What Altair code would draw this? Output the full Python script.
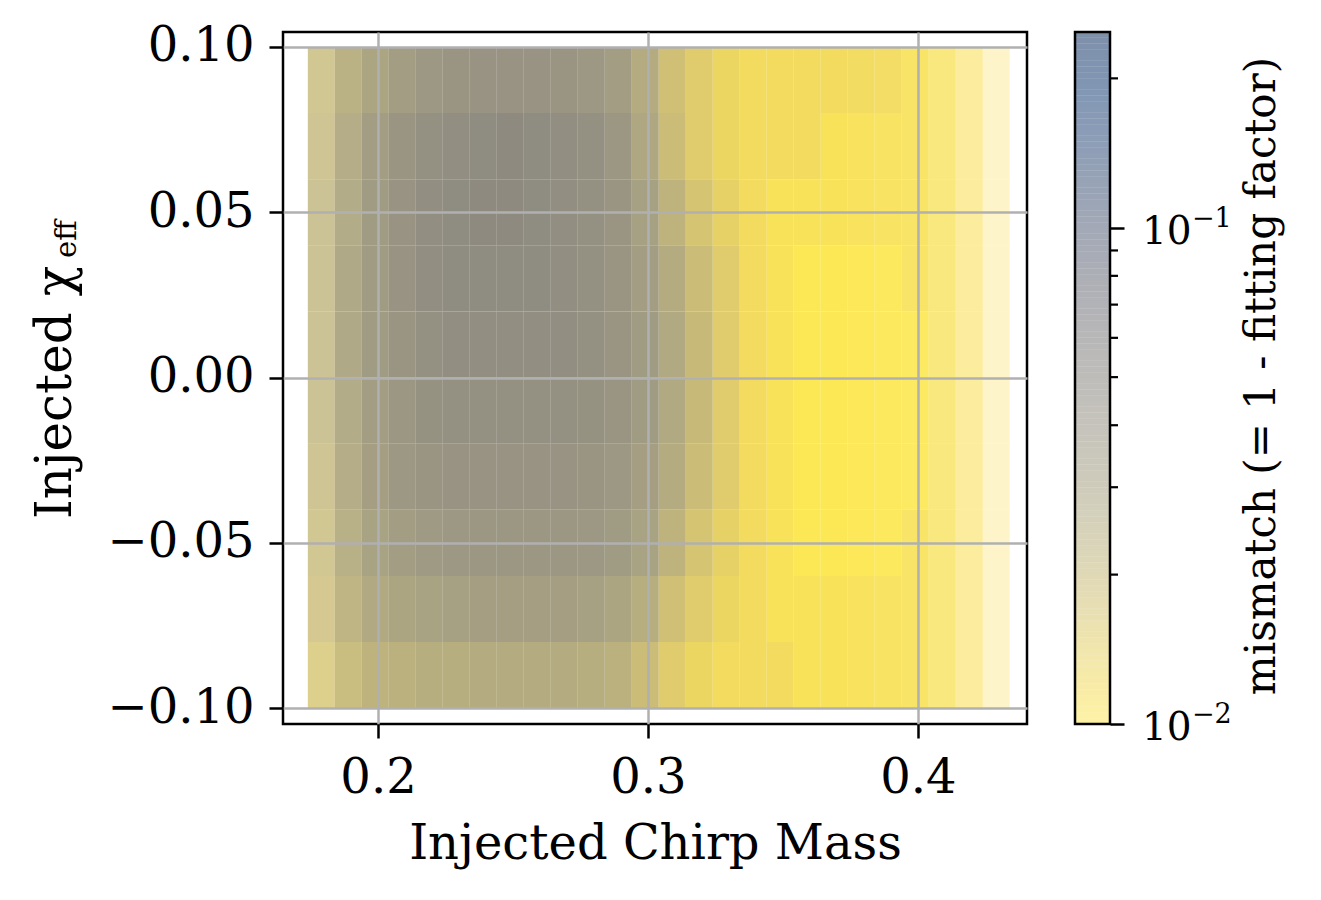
import altair as alt
import numpy as np
import pandas as pd

# ---- data (binned scatter: chirp-mass columns x chi_eff rows) ----
MC_LO = [0.174, 0.184, 0.194, 0.204, 0.214, 0.224, 0.234, 0.244, 0.254, 0.264,
         0.274, 0.284, 0.294, 0.304, 0.314, 0.324, 0.334, 0.344, 0.354, 0.364,
         0.374, 0.384, 0.394, 0.404, 0.414, 0.424]
CHI_LO = [0.08, 0.06, 0.04, 0.02, 0.00, -0.02, -0.04, -0.06, -0.08, -0.10]
BIN_W_MC = 0.01
BIN_W_CHI = 0.02

# mismatch in units of 1e-3, rows top (chi 0.08..0.10) to bottom (chi -0.10..-0.08)
MISMATCH_E3 = [
    [20, 24, 28, 32, 35, 37, 38, 38, 38, 37, 35, 32, 25, 18, 15, 13, 12, 12, 12, 12, 12, 12, 11, 11, 11, 11],
    [21, 26, 32, 37, 40, 42, 44, 45, 44, 42, 40, 36, 27, 19, 15, 13, 12, 12, 12, 11, 11, 11, 11, 11, 11, 11],
    [22, 27, 33, 38, 42, 44, 45, 45, 44, 42, 40, 37, 30, 22, 17, 14, 12, 11, 11, 11, 11, 11, 11, 11, 11, 11],
    [22, 28, 33, 38, 42, 44, 44, 44, 44, 42, 40, 37, 32, 25, 19, 15, 12, 11, 10, 10, 10, 10, 11, 11, 11, 11],
    [22, 28, 33, 37, 40, 42, 42, 42, 42, 42, 40, 37, 33, 26, 20, 15, 12, 11, 10, 10, 10, 10, 10, 11, 11, 11],
    [22, 27, 32, 36, 39, 40, 40, 40, 40, 40, 39, 37, 33, 26, 20, 15, 12, 11, 10, 10, 10, 10, 10, 11, 11, 11],
    [21, 26, 31, 35, 37, 38, 38, 38, 38, 38, 37, 35, 31, 25, 19, 15, 12, 11, 10, 10, 10, 10, 10, 11, 11, 11],
    [20, 25, 29, 32, 34, 35, 36, 36, 36, 36, 35, 33, 29, 22, 17, 14, 12, 11, 10, 10, 10, 10, 11, 11, 11, 11],
    [19, 23, 26, 28, 29, 30, 31, 31, 31, 31, 30, 28, 24, 18, 15, 13, 12, 11, 11, 11, 11, 11, 11, 11, 11, 11],
    [17, 20, 22, 23, 24, 24, 25, 25, 25, 25, 24, 23, 19, 15, 13, 12, 12, 12, 11, 11, 11, 11, 11, 11, 11, 11],
]
# how densely each chirp-mass column is covered by points (used as opacity)
DENSITY = [0.75, 0.88, 0.92, 0.92, 0.92, 0.92, 0.92, 0.92, 0.92, 0.92, 0.92, 0.92, 0.92,
           0.92, 0.92, 0.92, 0.92, 0.92, 0.92, 0.92, 0.9, 0.88, 0.85, 0.72, 0.55, 0.3]

X_TICKS = [0.2, 0.3, 0.4]
Y_TICKS = [-0.10, -0.05, 0.00, 0.05, 0.10]
CB_MAJOR = [0.01, 0.1]
CB_MAJOR_EXP = ["−2", "−1"]
CB_MINOR = [0.02, 0.03, 0.04, 0.05, 0.06, 0.07, 0.08, 0.09, 0.2]
CB_DOMAIN = [0.01, 0.248]

rows = []
for r, chi in enumerate(CHI_LO):
    for c, mc in enumerate(MC_LO):
        rows.append({"x0": mc, "x1": mc + BIN_W_MC, "y0": chi, "y1": chi + BIN_W_CHI,
                     "mismatch": MISMATCH_E3[r][c] / 1000.0, "dens": DENSITY[c]})
cells = pd.DataFrame(rows)

edges = np.geomspace(CB_DOMAIN[0], CB_DOMAIN[1], 121)
bands = pd.DataFrame({"lo": edges[:-1], "hi": edges[1:], "mid": np.sqrt(edges[:-1] * edges[1:])})
minor = pd.DataFrame({"v": CB_MINOR})
major = pd.DataFrame({"v": CB_MAJOR, "exp": CB_MAJOR_EXP})
one = pd.DataFrame({"k": [0]})

FONT = "DejaVu Serif"
W, H = 744, 692
CB_X0, CB_X1 = 792, 827

color_scale = alt.Scale(type="log", domain=CB_DOMAIN, scheme="cividis", reverse=True)

main = alt.Chart(cells).mark_rect(strokeWidth=0).encode(
    x=alt.X("x0:Q", scale=alt.Scale(domain=[0.1648, 0.4404], nice=False, zero=False),
            axis=alt.Axis(values=X_TICKS, format=".1f", title="Injected Chirp Mass",
                          labelBaseline="alphabetic", labelPadding=54, titleY=134,
                          titleBaseline="alphabetic", zindex=1)),
    x2="x1:Q",
    y=alt.Y("y0:Q", scale=alt.Scale(domain=[-0.1048, 0.1045], nice=False, zero=False),
            axis=alt.Axis(values=Y_TICKS, format=".2f", title=None, labelPadding=15, zindex=1)),
    y2="y1:Q",
    color=alt.Color("mismatch:Q", scale=color_scale, legend=None),
    opacity=alt.Opacity("dens:Q", scale=None),
)

ylab1 = alt.Chart(one).mark_text(text="Injected χ", font=FONT, fontSize=50, angle=270,
                                 align="left", baseline="alphabetic", color="black").encode(
    x=alt.value(-212), y=alt.value(487))
ylab2 = alt.Chart(one).mark_text(text="eff", font=FONT, fontSize=29, angle=270,
                                 align="left", baseline="alphabetic", color="black").encode(
    x=alt.value(-207), y=alt.value(226))

cb_axis = alt.Axis(orient="right", offset=CB_X1 - W, values=CB_MAJOR, labels=False,
                   tickSize=14, tickWidth=2.5, tickColor="black", domain=False, grid=False,
                   title=None)
cb_scale = alt.Scale(type="log", domain=CB_DOMAIN, nice=False)

cb_rects = alt.Chart(bands).mark_rect(opacity=0.5, strokeWidth=0).encode(
    x=alt.value(CB_X0), x2=alt.value(CB_X1),
    y=alt.Y("lo:Q", scale=cb_scale, axis=cb_axis),
    y2="hi:Q",
    color=alt.Color("mid:Q", scale=color_scale, legend=None),
)
cb_minor = alt.Chart(minor).mark_rule(color="black", strokeWidth=2.2).encode(
    y=alt.Y("v:Q", scale=cb_scale, axis=cb_axis),
    x=alt.value(CB_X1), x2=alt.value(CB_X1 + 8),
)
cb_outline = alt.Chart(one).mark_rect(fillOpacity=0, stroke="black", strokeWidth=2.5).encode(
    x=alt.value(CB_X0), x2=alt.value(CB_X1), y=alt.value(0), y2=alt.value(H),
)
cb_base = alt.Chart(major).mark_text(text="10", font=FONT, fontSize=39, align="left",
                                     baseline="alphabetic", dy=16, color="black").encode(
    y=alt.Y("v:Q", scale=cb_scale, axis=cb_axis),
    x=alt.value(859),
)
cb_exp = alt.Chart(major).mark_text(font=FONT, fontSize=27, align="left",
                                    baseline="alphabetic", dy=-1, color="black").encode(
    y=alt.Y("v:Q", scale=cb_scale, axis=cb_axis),
    x=alt.value(909),
    text="exp:N",
)
cb = alt.layer(cb_rects, cb_minor, cb_outline, cb_base, cb_exp)

cb_title = alt.Chart(one).mark_text(text="mismatch (= 1 - fitting factor)", font=FONT,
                                    fontSize=42, angle=270, align="center",
                                    baseline="middle", color="black").encode(
    x=alt.value(979), y=alt.value(344))

chart = alt.layer(main, cb, ylab1, ylab2, cb_title).resolve_scale(
    y="independent"
).properties(
    width=W, height=H,
    autosize=alt.AutoSizeParams(type="none"),
    padding={"left": 275, "top": 24, "right": 286, "bottom": 160},
).configure_view(
    stroke="black", strokeWidth=2.5
).configure_axis(
    labelFont=FONT, titleFont=FONT, labelFontSize=48, titleFontSize=48,
    labelColor="black", titleColor="black", titleFontWeight="normal",
    tickSize=14, tickWidth=2.5, tickColor="black",
    gridColor="#b0b0b0", gridWidth=2.5, gridOpacity=1, domain=False,
)

chart.save("out.html", embed_options={"renderer": "svg", "actions": False})
